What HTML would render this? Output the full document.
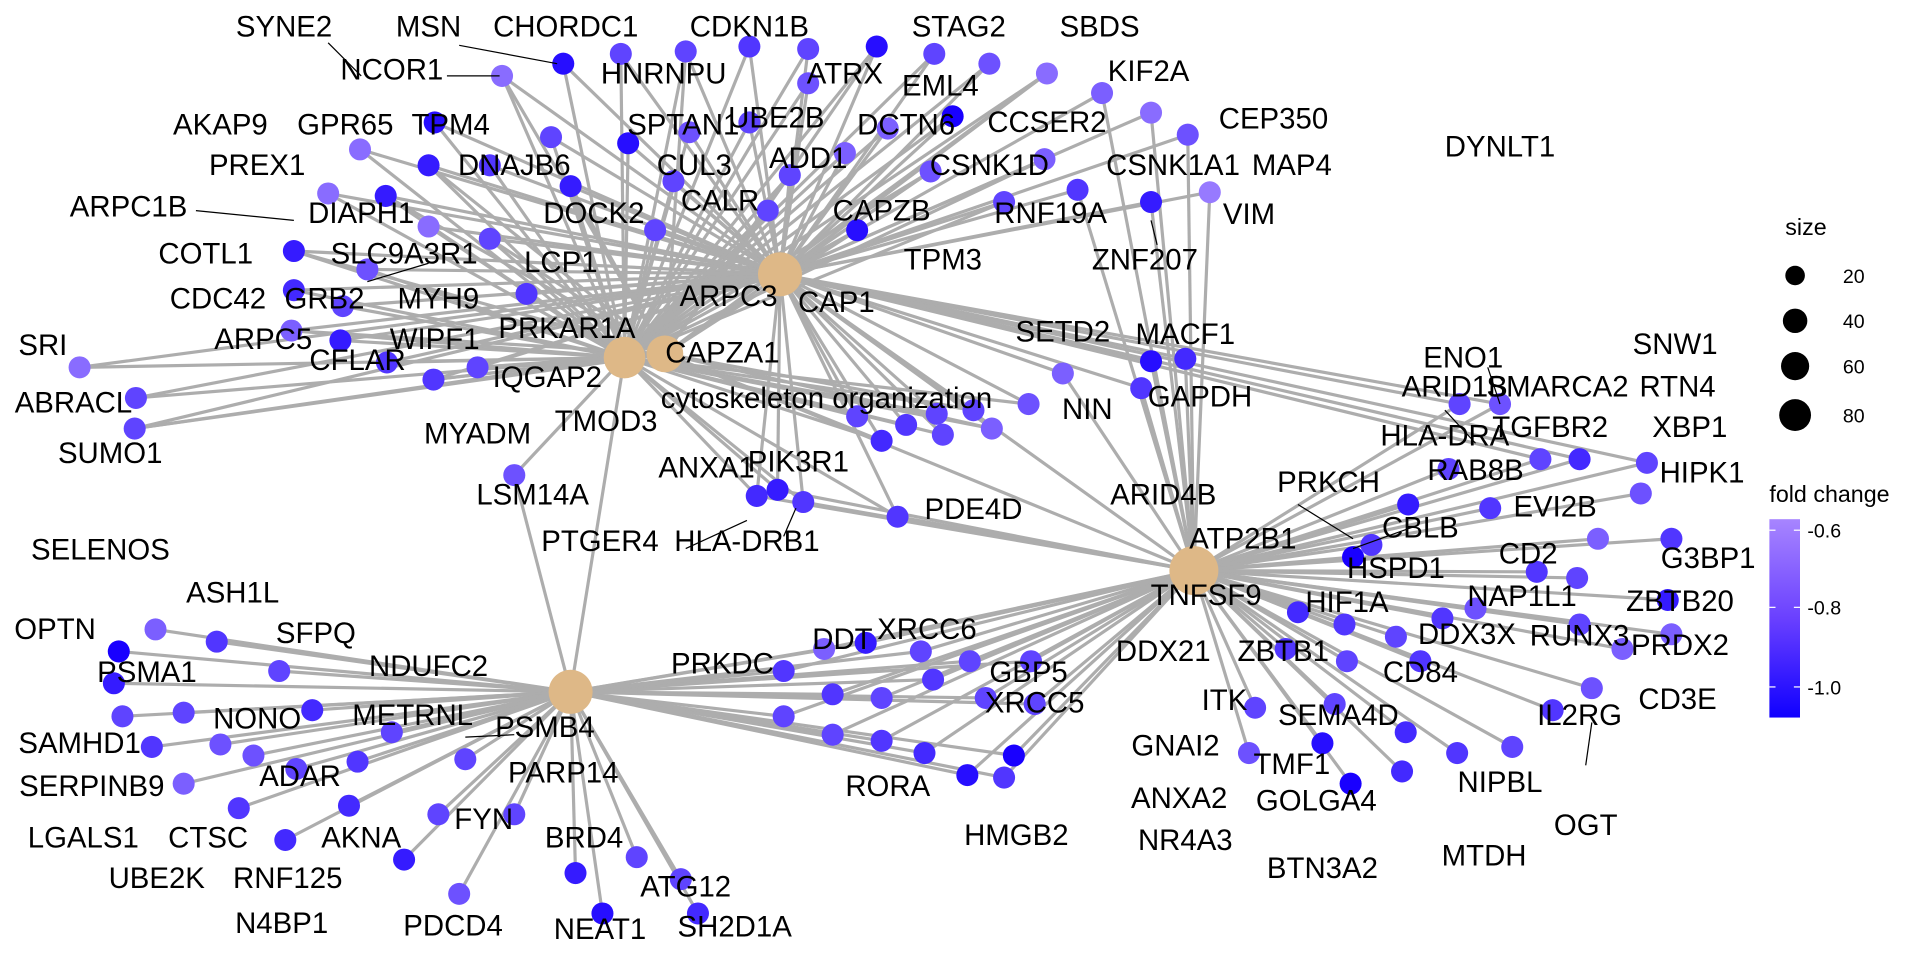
<!DOCTYPE html>
<html><head><meta charset="utf-8"><style>
html,body{margin:0;padding:0;background:#fff;}
svg{display:block;}
text{font-family:"Liberation Sans",Arial,sans-serif;fill:#000;}
.l{font-size:24px;text-anchor:middle;}
</style></head><body>
<svg id="s" width="1920" height="960" viewBox="0 0 1568 784" xmlns="http://www.w3.org/2000/svg">
<defs><linearGradient id="g" x1="0" y1="0" x2="0" y2="1"><stop offset="0" stop-color="#A785FF"/><stop offset="0.5" stop-color="#6A40FF"/><stop offset="1" stop-color="#1000FF"/></linearGradient></defs>
<g id="edges" stroke="#ADADAD" stroke-width="2.6" fill="none"></g>
<g id="hubs" fill="#DEB887">
<circle cx="637" cy="224" r="18"/><circle cx="510" cy="292" r="17"/><circle cx="543" cy="289" r="15"/><circle cx="975" cy="466" r="20"/><circle cx="466" cy="565" r="18"/>
</g>
<g id="dots"></g>
<g stroke="#000" stroke-width="1">
<line x1="268" y1="35" x2="295" y2="62"/><line x1="375" y1="37" x2="455" y2="52"/><line x1="160" y1="172" x2="240" y2="180"/><line x1="365" y1="62" x2="408" y2="62"/><line x1="1155" y1="430" x2="1105" y2="448"/><line x1="1060" y1="412" x2="1105" y2="440"/>
<line x1="610" y1="425" x2="560" y2="448"/><line x1="650" y1="415" x2="640" y2="438"/><line x1="940" y1="180" x2="945" y2="200"/><line x1="1300" y1="590" x2="1295" y2="625"/>
<line x1="420" y1="600" x2="380" y2="602"/><line x1="300" y1="230" x2="350" y2="215"/><line x1="1180" y1="335" x2="1205" y2="362"/><line x1="1215" y1="300" x2="1225" y2="330"/>
</g>
<g class="l">
<text x="232" y="30">SYNE2</text><text x="350" y="30">MSN</text><text x="462" y="30">CHORDC1</text><text x="612" y="30">CDKN1B</text><text x="783" y="30">STAG2</text><text x="898" y="30">SBDS</text>
<text x="320" y="65">NCOR1</text><text x="542" y="68">HNRNPU</text><text x="690" y="68">ATRX</text><text x="938" y="66">KIF2A</text><text x="768" y="78">EML4</text>
<text x="180" y="110">AKAP9</text><text x="282" y="110">GPR65</text><text x="368" y="110">TPM4</text><text x="558" y="110">SPTAN1</text><text x="634" y="104">UBE2B</text><text x="740" y="110">DCTN6</text><text x="855" y="108">CCSER2</text><text x="1040" y="105">CEP350</text><text x="1225" y="128">DYNLT1</text><text x="1055" y="143">MAP4</text>
<text x="210" y="143">PREX1</text><text x="420" y="143">DNAJB6</text><text x="567" y="143">CUL3</text><text x="660" y="137">ADD1</text><text x="808" y="143">CSNK1D</text><text x="958" y="143">CSNK1A1</text><text x="1020" y="183">VIM</text>
<text x="105" y="177">ARPC1B</text><text x="295" y="182">DIAPH1</text><text x="485" y="182">DOCK2</text><text x="588" y="172">CALR</text><text x="720" y="180">CAPZB</text><text x="858" y="182">RNF19A</text>
<text x="168" y="215">COTL1</text><text x="330" y="215">SLC9A3R1</text><text x="770" y="220">TPM3</text><text x="935" y="220">ZNF207</text><text x="458" y="222">LCP1</text>
<text x="178" y="252">CDC42</text><text x="265" y="252">GRB2</text><text x="358" y="252">MYH9</text><text x="595" y="250">ARPC3</text><text x="683" y="255">CAP1</text>
<text x="35" y="290">SRI</text><text x="215" y="285">ARPC5</text><text x="355" y="285">WIPF1</text><text x="463" y="276">PRKAR1A</text><text x="590" y="296">CAPZA1</text><text x="868" y="279">SETD2</text><text x="968" y="281">MACF1</text>
<text x="1195" y="300">ENO1</text><text x="1368" y="289">SNW1</text>
<text x="60" y="337">ABRACL</text><text x="292" y="302">CFLAR</text><text x="447" y="316">IQGAP2</text><text x="675" y="333">cytoskeleton organization</text><text x="888" y="342">NIN</text><text x="980" y="332">GAPDH</text><text x="1188" y="324">ARID1B</text><text x="1272" y="324">SMARCA2</text><text x="1370" y="324">RTN4</text>
<text x="90" y="378">SUMO1</text><text x="390" y="362">MYADM</text><text x="495" y="352">TMOD3</text><text x="1180" y="364">HLA-DRA</text><text x="1266" y="357">TGFBR2</text><text x="1380" y="357">XBP1</text>
<text x="577" y="390">ANXA1</text><text x="652" y="385">PIK3R1</text><text x="435" y="412">LSM14A</text><text x="950" y="412">ARID4B</text><text x="1085" y="402">PRKCH</text><text x="1205" y="392">RAB8B</text><text x="1390" y="394">HIPK1</text>
<text x="490" y="450">PTGER4</text><text x="610" y="450">HLA-DRB1</text><text x="795" y="424">PDE4D</text><text x="1160" y="439">CBLB</text><text x="1270" y="422">EVI2B</text>
<text x="82" y="457">SELENOS</text><text x="1015" y="448">ATP2B1</text><text x="1140" y="472">HSPD1</text><text x="1248" y="460">CD2</text><text x="1395" y="464">G3BP1</text>
<text x="190" y="492">ASH1L</text><text x="985" y="494">TNFSF9</text><text x="1100" y="500">HIF1A</text><text x="1243" y="495">NAP1L1</text><text x="1372" y="499">ZBTB20</text>
<text x="45" y="522">OPTN</text><text x="258" y="525">SFPQ</text><text x="688" y="530">DDT</text><text x="757" y="522">XRCC6</text><text x="1198" y="526">DDX3X</text><text x="1290" y="527">RUNX3</text><text x="1372" y="535">PRDX2</text>
<text x="120" y="557">PSMA1</text><text x="350" y="552">NDUFC2</text><text x="590" y="550">PRKDC</text><text x="840" y="557">GBP5</text><text x="950" y="540">DDX21</text><text x="1048" y="540">ZBTB1</text><text x="1160" y="557">CD84</text><text x="1370" y="579">CD3E</text>
<text x="210" y="595">NONO</text><text x="337" y="592">METRNL</text><text x="445" y="602">PSMB4</text><text x="845" y="582">XRCC5</text><text x="1000" y="580">ITK</text><text x="1093" y="592">SEMA4D</text><text x="1290" y="592">IL2RG</text>
<text x="65" y="615">SAMHD1</text><text x="960" y="617">GNAI2</text>
<text x="75" y="650">SERPINB9</text><text x="245" y="642">ADAR</text><text x="460" y="639">PARP14</text><text x="1055" y="632">TMF1</text><text x="1225" y="647">NIPBL</text>
<text x="725" y="650">RORA</text><text x="963" y="660">ANXA2</text><text x="1075" y="662">GOLGA4</text>
<text x="68" y="692">LGALS1</text><text x="170" y="692">CTSC</text><text x="295" y="692">AKNA</text><text x="395" y="677">FYN</text><text x="830" y="690">HMGB2</text><text x="968" y="694">NR4A3</text><text x="1080" y="717">BTN3A2</text><text x="1212" y="707">MTDH</text><text x="1295" y="682">OGT</text>
<text x="128" y="725">UBE2K</text><text x="235" y="725">RNF125</text><text x="477" y="692">BRD4</text><text x="560" y="732">ATG12</text>
<text x="230" y="762">N4BP1</text><text x="370" y="764">PDCD4</text><text x="490" y="767">NEAT1</text><text x="600" y="765">SH2D1A</text>
</g>
<text x="1458" y="192" style="font-size:19px">size</text>
<circle cx="1466" cy="225" r="8"/><circle cx="1466" cy="262" r="10"/><circle cx="1466" cy="299" r="11.5"/><circle cx="1466" cy="339" r="13"/>
<text x="1505" y="231" style="font-size:16px">20</text><text x="1505" y="268" style="font-size:16px">40</text><text x="1505" y="305" style="font-size:16px">60</text><text x="1505" y="345" style="font-size:16px">80</text>
<text x="1445" y="410" style="font-size:19px">fold change</text>
<rect x="1445" y="424" width="25" height="162" fill="url(#g)"/>
<g stroke="#fff" stroke-width="1"><line x1="1445" y1="433" x2="1450" y2="433"/><line x1="1465" y1="433" x2="1470" y2="433"/><line x1="1445" y1="496" x2="1450" y2="496"/><line x1="1465" y1="496" x2="1470" y2="496"/><line x1="1445" y1="561" x2="1450" y2="561"/><line x1="1465" y1="561" x2="1470" y2="561"/></g>
<text x="1476" y="439" style="font-size:16px">-0.6</text><text x="1476" y="502" style="font-size:16px">-0.8</text><text x="1476" y="567" style="font-size:16px">-1.0</text>
</svg>
<script>
var D=[[410,62,.2],[460,52,.9],[507,44,.5],[560,42,.5],[612,38,.6],[660,40,.5],[716,38,.9],[763,44,.5],[808,52,.4],[855,60,.2],[900,76,.3],[940,92,.2],[970,110,.4],[988,157,.1],[940,165,.8],[880,155,.6],[853,130,.3],[778,95,1],[700,188,.9],[660,68,.4],[612,100,.5],[645,143,.5],[563,108,.4],[513,117,.9],[466,152,.8],[450,112,.5],[400,135,.6],[350,135,.8],[355,100,.9],[294,122,.2],[315,160,.8],[268,158,.2],[350,185,.2],[240,205,.8],[240,237,.7],[280,250,.5],[238,270,.3],[278,278,.8],[316,296,.6],[354,310,.6],[65,300,.2],[111,325,.5],[110,350,.5],[420,388,.4],[535,188,.5],[627,172,.5],[690,125,.3],[725,105,.3],[760,140,.4],[820,165,.5],[550,148,.5],[400,195,.5],[430,240,.6],[300,220,.4],[390,300,.5],
[868,305,.3],[940,295,.9],[968,293,.7],[932,317,.6],[840,330,.4],[795,335,.5],[765,338,.5],[740,347,.6],[720,360,.7],[700,340,.5],[770,355,.5],[810,350,.3],[618,405,.7],[635,400,.8],[656,410,.6],[733,422,.6],
[1192,330,.5],[1225,330,.4],[1258,375,.5],[1290,375,.7],[1345,378,.5],[1340,403,.4],[1305,440,.3],[1365,440,.6],[1362,490,.8],[1365,518,.3],[1288,472,.5],[1255,467,.6],[1205,497,.4],[1217,415,.6],[1183,383,.5],[1150,412,.8],[1120,445,.6],[1105,455,1],[1060,500,.7],[1098,510,.6],[1140,520,.5],[1178,505,.6],[1290,510,.5],[1325,530,.3],[1300,562,.4],[1268,580,.6],[1235,610,.5],[1190,615,.6],[1145,630,.7],[1103,640,1],[1080,607,.9],[1020,615,.4],[1025,578,.5],[1090,575,.5],[1148,598,.7],[1160,540,.6],[1050,530,.6],[1100,540,.5],
[673,530,.3],[707,525,.8],[752,532,.5],[792,540,.5],[842,540,.5],[640,548,.6],[680,567,.6],[720,570,.5],[762,555,.6],[805,570,.5],[845,575,.5],[640,585,.5],[680,600,.5],[720,605,.6],[755,615,.7],[790,633,.9],[828,617,1],[820,635,.6],
[127,514,.3],[177,524,.6],[97,532,1],[93,558,.8],[228,548,.5],[100,585,.5],[150,582,.5],[255,580,.7],[124,610,.6],[207,617,.4],[292,622,.6],[150,640,.3],[242,628,.5],[195,660,.6],[285,658,.7],[358,665,.5],[233,686,.7],[330,702,.8],[375,730,.4],[420,665,.5],[470,713,.8],[492,746,.9],[570,746,.7],[556,718,.5],[520,700,.5],[380,620,.5],[320,598,.5],[180,608,.4]];
var H={A:[637,224],B:[510,292],C:[543,289],Dd:[975,466],E:[466,565]};
var ns="http://www.w3.org/2000/svg",eg=document.getElementById("edges"),dg=document.getElementById("dots");
function ln(a,b){var l=document.createElementNS(ns,"line");l.setAttribute("x1",a[0]);l.setAttribute("y1",a[1]);l.setAttribute("x2",b[0]);l.setAttribute("y2",b[1]);eg.appendChild(l);}
D.forEach(function(d,i){var x=d[0],y=d[1],hs=[];
if(y<380&&x<860){hs=[H.A,H.B];if(i%3==0)hs.push(H.C);}
else if(y<430&&x<760){hs=[H.A,H.B,H.Dd];}
else if(y<380){hs=[H.A,H.Dd];}
else if(x<600){hs=[H.E];}
else if(x<900){hs=[H.E,H.Dd];}
else hs=[H.Dd];
if(x==420&&y==388)hs=[H.B,H.E];
hs.forEach(function(h){ln([x,y],h);});
var c=document.createElementNS(ns,"circle");c.setAttribute("cx",x);c.setAttribute("cy",y);c.setAttribute("r",9);
var t=d[2];c.setAttribute("fill","rgb("+Math.round(165-140*t)+","+Math.round(135-135*t)+",255)");dg.appendChild(c);});
ln(H.A,H.Dd);ln(H.B,H.E);ln(H.C,H.Dd);
</script>
</body></html>
